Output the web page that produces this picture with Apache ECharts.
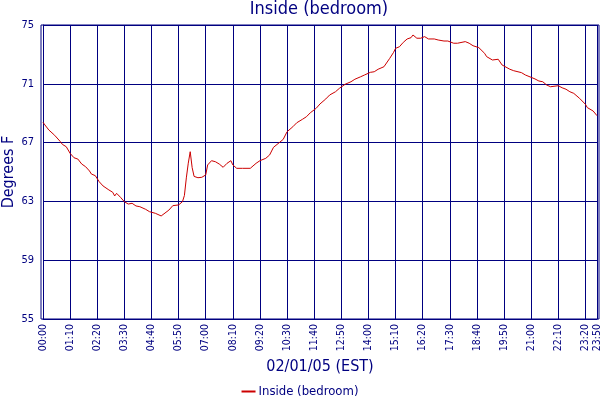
<!DOCTYPE html>
<html>
<head>
<meta charset="utf-8">
<script src="https://cdn.jsdelivr.net/npm/echarts@6/dist/echarts.min.js"></script>
<style>html,body{margin:0;padding:0;background:#fff}#c{width:600px;height:400px}</style>
</head>
<body>
<div id="c"></div>
<script>
const titleText = 'Inside (bedroom)';
const xAxisName = '02/01/05 (EST)';
const yAxisName = 'Degrees F';
const seriesName = 'Inside (bedroom)';
const xMin = 0, xMax = 1430, xStep = 70;      // minutes since 00:00
const yMin = 55, yMax = 75, yStep = 4;
const minutes = [0,5,15,30,35,45,50,60,70,80,90,100,110,120,125,135,145,155,170,180,185,190,200,210,220,230,240,250,265,275,290,305,310,325,335,350,360,365,370,375,380,385,390,400,410,420,425,435,445,455,465,475,485,490,500,515,535,550,560,575,585,595,610,620,630,645,655,670,680,690,705,715,730,740,755,765,780,795,805,820,830,845,855,865,870,880,885,895,905,910,920,930,940,950,955,965,975,985,995,1010,1020,1035,1045,1050,1060,1070,1090,1100,1110,1125,1130,1140,1145,1160,1165,1175,1185,1190,1205,1215,1220,1235,1245,1250,1260,1270,1280,1290,1300,1310,1315,1330,1340,1350,1360,1370,1375,1385,1400,1405,1420,1430];
const temps = [68.38,68.2,67.86,67.5,67.45,67.06,66.88,66.72,66.27,65.97,65.88,65.54,65.36,65.07,64.86,64.75,64.34,64.05,63.78,63.62,63.37,63.55,63.28,62.98,62.82,62.87,62.69,62.64,62.46,62.30,62.19,62.01,62.07,62.41,62.71,62.76,62.98,63.4,64.6,65.6,66.38,65.3,64.7,64.61,64.64,64.8,65.48,65.77,65.70,65.54,65.32,65.59,65.77,65.48,65.25,65.25,65.25,65.59,65.77,65.93,66.16,66.68,67.0,67.22,67.74,68.08,68.35,68.59,68.76,69.03,69.33,69.63,69.97,70.24,70.46,70.69,70.97,71.14,71.31,71.48,71.6,71.78,71.82,71.99,71.87,72.16,72.28,72.73,73.14,73.41,73.52,73.82,74.05,74.14,74.32,74.10,74.10,74.21,74.05,74.05,73.98,73.91,73.91,73.98,73.76,73.76,73.87,73.76,73.59,73.46,73.37,73.07,72.85,72.62,72.51,72.67,72.28,72.16,71.99,71.89,71.99,71.76,71.6,71.48,71.44,71.33,71.19,71.14,70.92,70.8,70.92,70.87,70.73,70.63,70.46,70.35,70.28,70.01,69.61,69.38,69.15,68.83];

const navy = '#000080';
const fam = "'DejaVu Sans Condensed', 'DejaVu Sans', sans-serif";
function hhmm(v){ const h = Math.floor(v/60), m = Math.round(v%60); return String(h).padStart(2,'0')+':'+String(m).padStart(2,'0'); }

const chart = echarts.init(document.getElementById('c'), null, {renderer:'canvas'});
chart.setOption({
  animation: false,
  backgroundColor: '#fff',
  textStyle: { fontFamily: fam },
  title: { text: titleText, left: 319, textAlign: 'center', top: 0, padding: 0,
    textStyle: { color: navy, fontSize: 18, fontWeight: 'normal', fontFamily: fam } },
  legend: { bottom: -3, left: 'center', icon: 'rect', itemWidth: 14, itemHeight: 2, itemGap: 10,
    textStyle: { color: navy, fontSize: 13, fontFamily: fam, padding: [0,0,0,-2] },
    data: [seriesName] },
  grid: [
    { left: 41, right: 1, top: 25, bottom: 81, show: true, borderColor: navy, borderWidth: 1, backgroundColor: 'transparent', containLabel: false, outerBoundsMode: 'none' },
    { left: 43, right: 3, top: 25, bottom: 81, containLabel: false, outerBoundsMode: 'none' }
  ],
  xAxis: [
    { gridIndex: 0, type: 'value', show: false, min: 0, max: 1 },
    { gridIndex: 1, type: 'value', min: xMin, max: xMax, interval: xStep,
      name: xAxisName, nameLocation: 'middle', nameGap: 40, nameMoveOverlap: false,
      nameTextStyle: { color: navy, fontSize: 16, fontFamily: fam },
      axisLine: { show: true, lineStyle: { color: navy, width: 1 } },
      axisTick: { show: false },
      axisLabel: { rotate: 90, margin: 5, color: navy, fontSize: 10.5, fontFamily: fam, formatter: hhmm, showMinLabel: true, showMaxLabel: true },
      splitLine: { show: true, lineStyle: { color: navy, width: 1 } } }
  ],
  yAxis: [
    { gridIndex: 0, type: 'value', show: false, min: 0, max: 1 },
    { gridIndex: 1, type: 'value', min: yMin, max: yMax, interval: yStep,
      name: yAxisName, nameLocation: 'middle', nameGap: 26, nameMoveOverlap: false,
      nameTextStyle: { color: navy, fontSize: 16, fontFamily: fam },
      axisLine: { show: true, lineStyle: { color: navy, width: 1 } },
      axisTick: { show: false },
      axisLabel: { margin: 9, color: navy, fontSize: 11, fontFamily: fam },
      splitLine: { show: true, lineStyle: { color: navy, width: 1 } } }
  ],
  series: [{
    name: seriesName, type: 'line', xAxisIndex: 1, yAxisIndex: 1,
    data: minutes.map((m, i) => [m, temps[i]]),
    showSymbol: false, symbol: 'none', smooth: false,
    lineStyle: { color: '#cc0000', width: 1 }, itemStyle: { color: '#cc0000' }
  }]
});
</script>
</body>
</html>
